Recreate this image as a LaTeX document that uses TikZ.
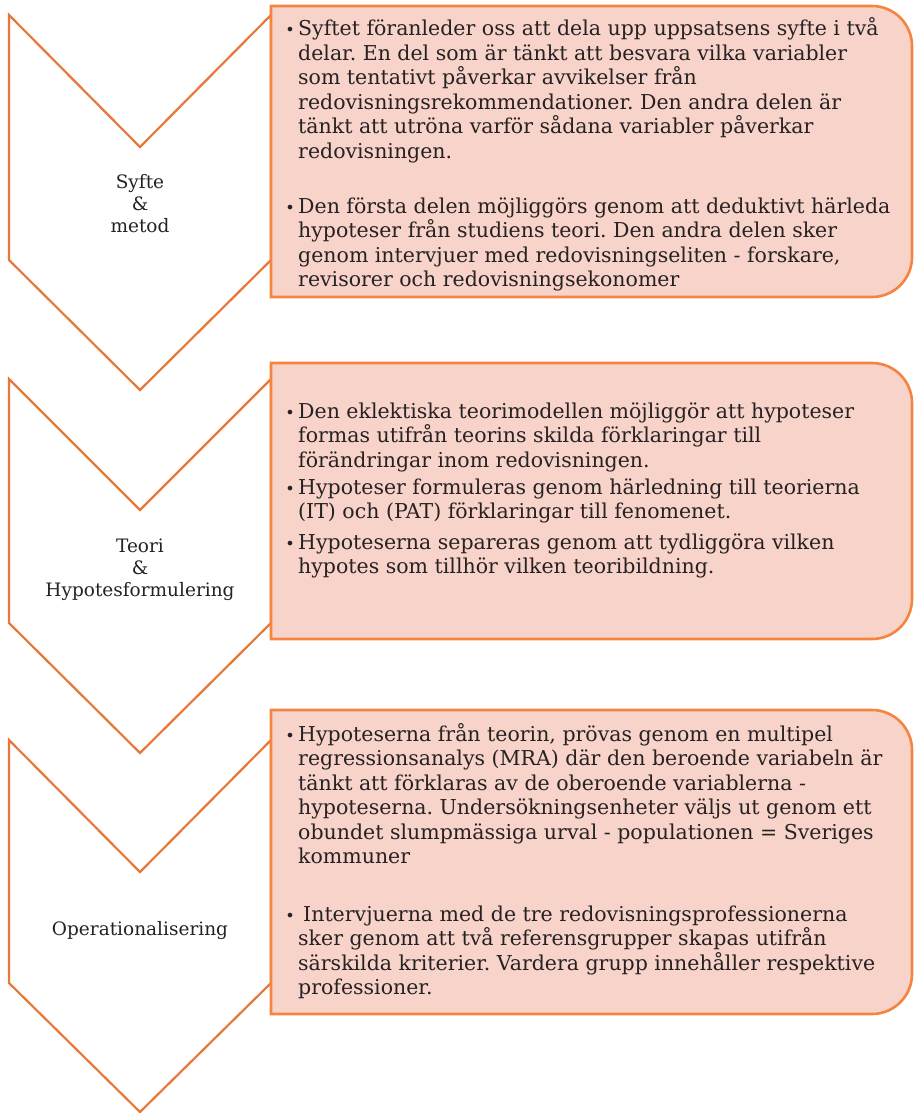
\documentclass[tikz,border=0pt]{standalone}
\usepackage{fontspec}
\setmainfont{DejaVu Serif}
\frenchspacing
\definecolor{chevorange}{HTML}{E8773A}
\definecolor{boxorange}{HTML}{F4843F}
\definecolor{boxfill}{HTML}{F8D3C9}
\definecolor{ink}{HTML}{262223}
\tikzset{
  chev/.style={draw=chevorange, line width=2.2pt, fill=white, line join=miter},
  card/.style={draw=boxorange, line width=2.6pt, fill=boxfill},
  txt/.style={anchor=base west, inner sep=0pt, text=ink, font=\fontsize{20.5}{24.5}\selectfont},
  bul/.style={anchor=base, inner sep=0pt, text=ink, font=\fontsize{16}{18}\selectfont},
  lbl/.style={anchor=base, inner sep=0pt, text=ink, font=\fontsize{18.5}{22}\selectfont}
}
\newcommand{\btext}[1]{\parbox[t]{612pt}{\raggedright\frenchspacing #1}}
\newcommand{\ltext}[1]{\parbox[t]{250pt}{\centering #1}}
\begin{document}
\begin{tikzpicture}[x=1pt,y=-1pt]
\useasboundingbox (0,0) rectangle (915,1113);
% chevrons
\draw[chev] (9,15) -- (140,147) -- (271,15) -- (271,260) -- (140,390) -- (9,260) -- cycle;
\draw[chev] (9,379) -- (140,510) -- (271,379) -- (271,623) -- (140,753) -- (9,623) -- cycle;
\draw[chev] (9,740) -- (140,872) -- (271,740) -- (271,983) -- (140,1112) -- (9,983) -- cycle;
% cards
\draw[card] (271,297) -- (271,6) [rounded corners=40pt] -- (912,6) -- (912,297) [sharp corners] -- cycle;
\draw[card] (271,639) -- (271,363) [rounded corners=40pt] -- (912,363) -- (912,639) [sharp corners] -- cycle;
\draw[card] (271,1014) -- (271,710) [rounded corners=40pt] -- (912,710) -- (912,1014) [sharp corners] -- cycle;
% labels
\node[lbl] (l1) at (140,188) {\ltext{Syfte\\\&\\metod}};
\node[lbl] (l2) at (140,552) {\ltext{Teori\\\&\\Hypotesformulering}};
\node[lbl] (l3) at (140,935) {\ltext{Operationalisering}};
% box 1
\node[bul] (b1a) at (290,36) {•};
\node[txt] (t1a) at (298,36) {\btext{Syftet föranleder oss att dela upp uppsatsens syfte i två\\
delar. En del som är tänkt att besvara vilka variabler\\
som tentativt påverkar avvikelser från\\
redovisningsrekommendationer. Den andra delen är\\
tänkt att utröna varför sådana variabler påverkar\\
redovisningen.}};
\node[bul] (b1b) at (290,213) {•};
\node[txt] (t1b) at (298,213) {\btext{Den första delen möjliggörs genom att deduktivt härleda\\
hypoteser från studiens teori. Den andra delen sker\\
genom intervjuer med redovisningseliten - forskare,\\
revisorer och redovisningsekonomer}};
% box 2
\node[bul] (b2a) at (290,418) {•};
\node[txt] (t2a) at (298,418) {\btext{Den eklektiska teorimodellen möjliggör att hypoteser\\
formas utifrån teorins skilda förklaringar till\\
förändringar inom redovisningen.}};
\node[bul] (b2b) at (290,494) {•};
\node[txt] (t2b) at (298,494) {\btext{Hypoteser formuleras genom härledning till teorierna\\
(IT) och (PAT) förklaringar till fenomenet.}};
\node[bul] (b2c) at (290,549) {•};
\node[txt] (t2c) at (298,549) {\btext{Hypoteserna separeras genom att tydliggöra vilken\\
hypotes som tillhör vilken teoribildning.}};
% box 3
\node[bul] (b3a) at (290,741) {•};
\node[txt] (t3a) at (298,741) {\btext{Hypoteserna från teorin, prövas genom en multipel\\
regressionsanalys (MRA) där den beroende variabeln är\\
tänkt att förklaras av de oberoende variablerna -\\
hypoteserna. Undersökningsenheter väljs ut genom ett\\
obundet slumpmässiga urval - populationen = Sveriges\\
kommuner}};
\node[bul] (b3b) at (290,921) {•};
\node[txt] (t3b) at (298,921) {\btext{\hspace*{5pt}Intervjuerna med de tre redovisningsprofessionerna\\
sker genom att två referensgrupper skapas utifrån\\
särskilda kriterier. Vardera grupp innehåller respektive\\
professioner.}};
\end{tikzpicture}
\end{document}
